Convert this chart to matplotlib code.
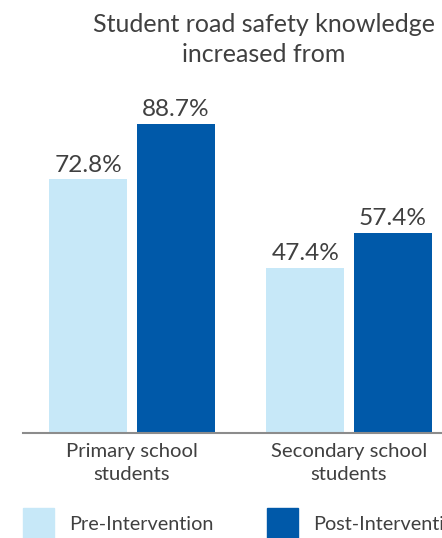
import matplotlib.pyplot as plt
from matplotlib.patches import Rectangle

categories = ['Primary school\nstudents', 'Secondary school\nstudents']
pre_values = [72.8, 47.4]
post_values = [88.7, 57.4]
series_names = ['Pre-Intervention', 'Post-Intervention']
title_lines = ['Student road safety knowledge', 'increased from']

light = '#C7E8F8'
dark = '#0059A9'
text_col = '#404040'

plt.rcParams['font.family'] = ['Lato', 'DejaVu Sans']

W, H = 442, 538
fig = plt.figure(figsize=(W / 100, H / 100), dpi=100)

# axes box in pixel coords (from top-left)
left_px, right_px, top_px, base_px = 23, 442, 100, 433
ax = fig.add_axes([left_px / W, (H - base_px) / H,
                   (right_px - left_px) / W, (base_px - top_px) / H])

px_per_unit = 217.0
x0 = (left_px - 132) / px_per_unit
x1 = (right_px - 132) / px_per_unit
ax.set_xlim(x0, x1)
ax.set_ylim(0, (base_px - top_px) / 3.483)

width = 78 / px_per_unit
off = 43.75 / px_per_unit
xs = list(range(len(categories)))

b1 = ax.bar([x - off for x in xs], pre_values, width, color=light)
b2 = ax.bar([x + off for x in xs], post_values, width, color=dark)

for bars, vals in ((b1, pre_values), (b2, post_values)):
    for rect, v in zip(bars, vals):
        ax.annotate(f'{v}%', (rect.get_x() + rect.get_width() / 2, v),
                    xytext=(0, 5.5), textcoords='offset points',
                    ha='center', va='baseline', fontsize=17.6, color=text_col)

ax.set_xticks(xs)
ax.set_xticklabels(categories, fontsize=14.6, color=text_col, linespacing=1.45)
ax.tick_params(axis='x', length=0, pad=7)
ax.set_yticks([])
for s in ['top', 'right', 'left']:
    ax.spines[s].set_visible(False)
ax.spines['bottom'].set_color('#8C8C8C')
ax.spines['bottom'].set_linewidth(1.5)

for i, line in enumerate(title_lines):
    fig.text(264 / W, 1 - (32 + 30 * i) / H, line,
             ha='center', va='baseline', fontsize=18, color=text_col)

# legend
for (sx, col, name) in ((23, light, series_names[0]), (267, dark, series_names[1])):
    fig.patches.append(Rectangle((sx / W, 1 - 540 / H), 31 / W, 32 / H,
                                 transform=fig.transFigure, color=col))
    fig.text((sx + 46) / W, 1 - 524 / H, name, ha='left', va='center',
             fontsize=14.3, color=text_col)

fig.savefig('out.png', dpi=100)
